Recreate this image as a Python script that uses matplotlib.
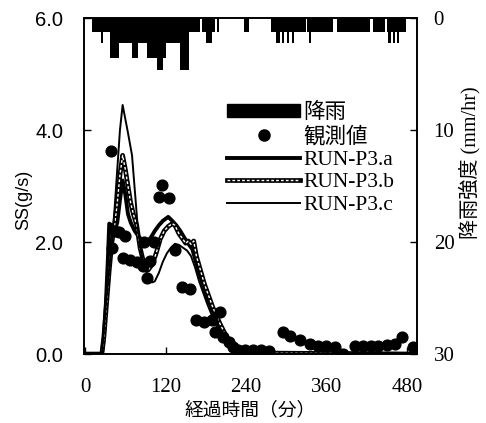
import matplotlib
matplotlib.use("Agg")
import matplotlib.pyplot as plt
from matplotlib.patches import Patch
from matplotlib.lines import Line2D

SERIF = ["Liberation Serif", "Noto Sans CJK JP"]
SANS = ["Liberation Sans", "DejaVu Sans"]
CJK = ["Noto Sans CJK JP", "DejaVu Sans"]

# rainfall blocks (minutes) and intensity (mm/hr)
rain_start = [10, 24, 27, 37, 51, 70, 79, 93, 108, 116, 121, 142, 155, 175, 181, 190, 196,
              237, 277, 285, 290, 293, 297, 301, 304, 308, 312, 331, 334, 337, 376, 429,
              450, 452, 456, 459, 462, 465, 468]
rain_end = [24, 27, 37, 51, 70, 79, 93, 108, 116, 121, 142, 155, 171, 181, 190, 194, 200,
            245, 285, 290, 293, 297, 301, 304, 308, 312, 329, 334, 337, 370, 425, 447,
            452, 456, 459, 462, 465, 468, 478]
rain_mm = [1.2, 2.2, 1.2, 3.6, 2.2, 3.6, 2.2, 3.6, 4.6, 3.6, 2.2, 4.6, 1.2, 1.2, 2.2, 1.2, 1.2,
           1.2, 1.2, 2.2, 1.2, 2.2, 1.2, 2.2, 1.2, 2.2, 1.2, 1.2, 2.2, 1.2, 1.2, 1.2,
           1.2, 2.2, 1.2, 2.2, 1.2, 2.2, 1.2]

# observed SS
obs_t = [38, 40, 44, 51, 59, 57, 67, 77, 86, 92, 97, 88, 103, 110, 114, 125, 134, 145, 156,
         166, 178, 189, 194, 201, 206, 214, 221, 228, 238, 250, 262, 274,
         295, 305, 320, 335, 348, 360, 373, 385, 402, 415, 427, 437, 450, 462, 473, 489]
obs_ss = [3.62, 1.89, 2.20, 2.18, 2.10, 1.72, 1.68, 1.64, 1.58, 1.35, 1.67, 2.0, 2.0, 2.81,
          3.02, 2.78, 1.85, 1.19, 1.17, 0.61, 0.58, 0.61, 0.40, 0.76, 0.31, 0.22, 0.13, 0.07,
          0.07, 0.07, 0.08, 0.06, 0.40, 0.33, 0.25, 0.18, 0.15, 0.15, 0.13, 0.0, 0.15, 0.15,
          0.15, 0.15, 0.17, 0.18, 0.30, 0.12]

# simulated runs
t_a = [0, 25, 28, 31, 34, 36, 40, 44, 48, 52, 56, 60, 64, 68, 74, 80, 86, 92, 98, 104, 110,
       116, 124, 130, 136, 142, 148, 154, 160, 166, 172, 178, 184, 190, 196, 202, 208, 214,
       220, 226, 232, 495]
ss_a = [0, 0, 0.3, 0.9, 1.7, 2.33, 2.3, 2.2, 2.35, 2.75, 3.1, 2.85, 2.5, 2.35, 2.2, 2.1, 2.02,
        2.0, 2.08, 2.2, 2.3, 2.38, 2.45, 2.38, 2.3, 2.2, 2.08, 1.97, 1.87, 1.62, 1.38, 1.15,
        0.95, 0.78, 0.6, 0.46, 0.33, 0.2, 0.1, 0.04, 0.02, 0.0]

t_b = [0, 25, 28, 32, 36, 40, 44, 48, 52, 56, 60, 64, 68, 72, 77, 82, 88, 94, 100, 106, 112,
       118, 124, 130, 134, 140, 146, 150, 154, 158, 162, 166, 172, 178, 184, 190, 196, 202,
       208, 214, 220, 226, 234, 495]
ss_b = [0, 0, 0.3, 0.9, 1.5, 2.0, 2.3, 2.7, 3.2, 3.55, 3.3, 3.0, 2.7, 2.5, 2.3, 1.9, 1.6, 1.5,
        1.6, 1.8, 2.05, 2.2, 2.28, 2.33, 2.3, 2.15, 2.05, 1.98, 2.02, 1.96, 2.02, 1.75, 1.5,
        1.25, 1.05, 0.85, 0.68, 0.52, 0.38, 0.25, 0.13, 0.05, 0.02, 0.0]

t_c = [0, 25, 28, 32, 36, 40, 44, 48, 52, 56, 60, 64, 70, 75, 79, 84, 90, 95, 100, 104, 110,
       116, 122, 128, 134, 140, 146, 152, 158, 164, 170, 176, 182, 188, 194, 200, 206, 212,
       218, 224, 232, 495]
ss_c = [0, 0, 0.4, 1.0, 1.5, 2.0, 2.6, 3.3, 4.0, 4.45, 4.2, 3.95, 3.55, 2.8, 2.2, 1.8, 1.5,
        1.35, 1.28, 1.3, 1.45, 1.65, 1.8, 1.9, 1.97, 1.95, 1.9, 1.85, 1.75, 1.55, 1.3, 1.1,
        0.9, 0.72, 0.55, 0.4, 0.28, 0.17, 0.08, 0.03, 0.01, 0.0]

x_ticks = [0, 120, 240, 360, 480]
ss_ticks = [0.0, 2.0, 4.0, 6.0]
rain_ticks = [0, 10, 20, 30]

fig = plt.figure(figsize=(4.86, 4.23), dpi=100)
ax = fig.add_axes([0.173, 0.163, 0.685, 0.794])
ax2 = ax.twinx()

# rain hyetograph hanging from the top
widths = [e - s for s, e in zip(rain_start, rain_end)]
ax2.bar(rain_start, rain_mm, width=widths, align="edge", color="black", linewidth=0)
ax2.set_ylim(30, 0)

ax.scatter(obs_t, obs_ss, s=60, color="black", zorder=3)
ax.plot(t_a, ss_a, color="black", lw=2.8, zorder=2)
ax.plot(t_b, ss_b, color="black", lw=3.4, zorder=2)
ax.plot(t_b, ss_b, color="white", lw=1.0, dashes=(2, 1.5), zorder=2)
ax.plot(t_c, ss_c, color="black", lw=1.4, zorder=2)

ax.set_xlim(-1.5, 495)
ax.set_ylim(0, 6)
ax.set_xticks(x_ticks)
ax.set_yticks(ss_ticks)
ax.set_yticklabels([f"{v:.1f}" for v in ss_ticks], family=SANS, fontsize=14.5)
ax.set_xticklabels([str(v) for v in x_ticks], family=SERIF, fontsize=15)
ax.tick_params(axis="x", direction="in", length=5, width=1, pad=17)
ax.tick_params(axis="y", direction="in", length=5, width=1, pad=15)
ax2.set_yticks(rain_ticks)
ax2.set_yticklabels([str(v) for v in rain_ticks], family=SERIF, fontsize=15)
ax2.tick_params(axis="y", direction="in", length=5, width=1, pad=12)
for a in (ax, ax2):
    for s in a.spines.values():
        s.set_linewidth(1.2)

ax.set_xlabel("経過時間（分）", family=CJK, fontsize=13.5, labelpad=2)
ax.set_ylabel("SS(g/s)", family=SANS, fontsize=13)
ax.yaxis.set_label_coords(-0.155, 0.46)
ax2.set_ylabel("降雨強度 (mm/hr)", family=SERIF, fontsize=14.5)
ax2.yaxis.set_label_coords(1.125, 0.57)

handles = [
    Patch(facecolor="black", edgecolor="black"),
    Line2D([], [], ls="none", marker="o", markersize=8, color="black"),
    Line2D([], [], color="black", lw=2.8),
    (Line2D([], [], color="black", lw=3.4), Line2D([], [], color="white", lw=1.0, dashes=(2, 1.5))),
    Line2D([], [], color="black", lw=1.4),
]
labels = ["降雨", "観測値", "RUN-P3.a", "RUN-P3.b", "RUN-P3.c"]
ax2.legend(handles, labels, loc="upper left", bbox_to_anchor=(0.43, 0.748), frameon=False,
           prop={"family": SERIF, "size": 15.5}, handlelength=3.4, handleheight=0.56,
           handletextpad=0.15, labelspacing=0.16, borderpad=0, borderaxespad=0)

fig.savefig("out.png", dpi=100)
